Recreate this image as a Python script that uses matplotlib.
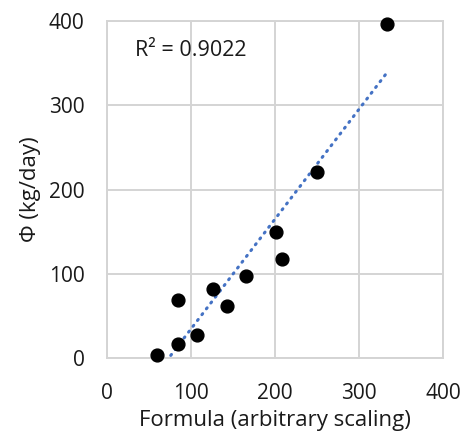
import numpy as np
from matplotlib import pyplot as plt

plt.rcParams['font.family'] = ['Open Sans', 'DejaVu Sans']

# data
formula = [60, 84, 84, 107, 126, 143, 166, 201, 208, 250, 333]
phi = [4, 17, 69, 27, 82, 62, 98, 150, 118, 221, 397]
r2_text = "R² = 0.9022"

fig = plt.figure(figsize=(4.65, 4.32), dpi=100)
ax = fig.add_axes([0.230, 0.171, 0.723, 0.780])

grid_col = "#d4d4d4"
ax.set_xlim(0, 400)
ax.set_ylim(0, 400)
ax.set_xticks([0, 100, 200, 300, 400])
ax.set_yticks([0, 100, 200, 300, 400])
ax.grid(True, color=grid_col, lw=1.4)
ax.set_axisbelow(True)
for s in ax.spines.values():
    s.set_color(grid_col)
    s.set_linewidth(1.4)
ax.tick_params(axis="x", length=0, pad=18, labelsize=15, colors="#1a1a1a")
ax.tick_params(axis="y", length=0, pad=16, labelsize=15, colors="#1a1a1a")

# linear trendline
x = np.array(formula, float)
y = np.array(phi, float)
k, b = np.polyfit(x, y, 1)
xt = np.array([x.min(), x.max()])
ax.plot(xt, k * xt + b, color="#4472C4", lw=2.2, ls=(0, (0.4, 2.0)),
        dash_capstyle="round", zorder=2)

ax.scatter(formula, phi, s=85, color="black", zorder=3, clip_on=False)

ax.text(33, 365, r2_text, fontsize=15.5, va="center", color="#1a1a1a")

ax.set_xlabel("Formula (arbitrary scaling)", fontsize=16, labelpad=4, color="#1a1a1a")
ax.set_ylabel("Φ (kg/day)", fontsize=16, labelpad=6, color="#1a1a1a")

fig.savefig("out.png", dpi=100)
